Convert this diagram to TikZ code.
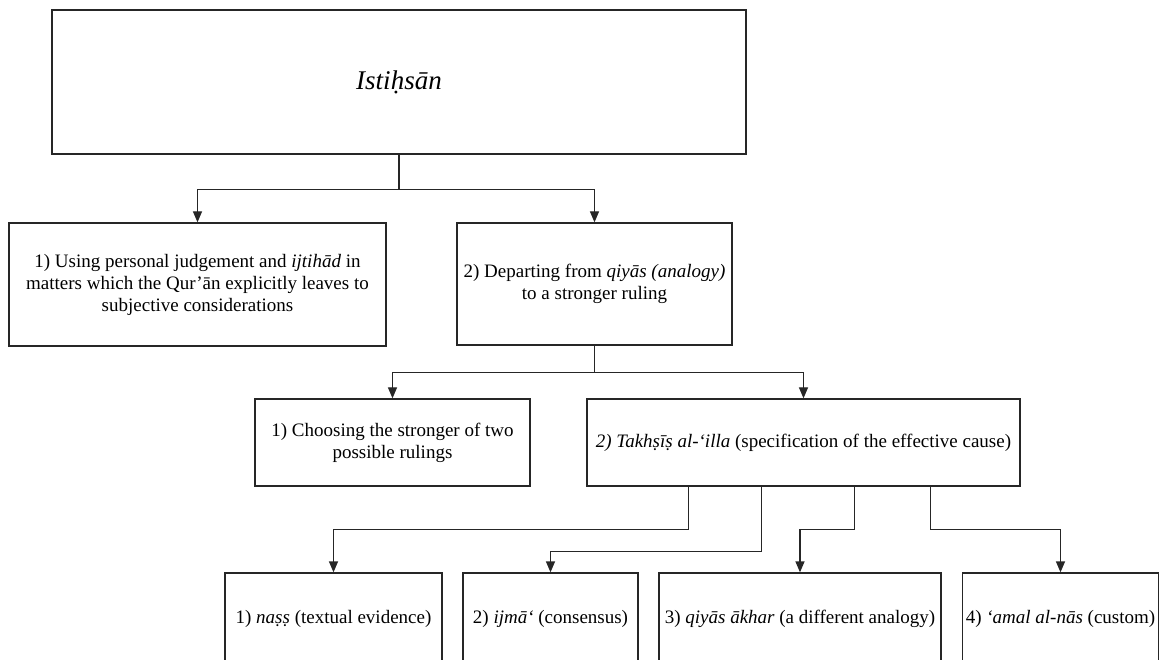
\documentclass[tikz,border=0pt]{standalone}
\usepackage{fontspec}
\setmainfont{Liberation Serif}
\usetikzlibrary{arrows.meta}

\tikzset{
  box/.style={draw=black!85, line width=1.3pt, align=center, inner sep=3pt,
    font=\fontsize{19}{22}\selectfont},
  arr/.style={draw=black!85, line width=1.3pt, -{Triangle[length=11pt,width=9pt]}}
}

\begin{document}
\begin{tikzpicture}[x=1pt, y=-1pt]
            \useasboundingbox (0,0) rectangle (1160,660);

            % Draw the main box
            \node[box, minimum width=694pt, minimum height=144pt,
              font=\fontsize{27}{30}\selectfont] (istihsan) at (399,82) {\textit{Istiḥsān}};

            % Draw the two senses
            \node[box, minimum width=377pt, minimum height=123pt] (judgement) at (197.5,284.5)
              {1) Using personal judgement and \textit{ijtihād} in\\matters which the Qur’ān explicitly leaves to\\subjective considerations};
            \node[box, minimum width=275pt, minimum height=122pt] (departing) at (594.5,284)
              {2) Departing from \textit{qiyās (analogy)}\\to a stronger ruling};

            % Draw the two kinds of departing
            \node[box, minimum width=275pt, minimum height=87pt] (choosing) at (392.5,442.5)
              {1) Choosing the stronger of two\\possible rulings};
            \node[box, minimum width=433pt, minimum height=87pt] (takhsis) at (803.5,442.5)
              {\textit{2) Takhṣīṣ al-‘illa} (specification of the effective cause)};

            % Draw the four grounds
            \node[box, minimum width=217pt, minimum height=92pt] (nass) at (333.5,619)
              {1) \textit{naṣṣ} (textual evidence)};
            \node[box, minimum width=175pt, minimum height=92pt] (ijma) at (550.5,619)
              {2) \textit{ijmā‘} (consensus)};
            \node[box, minimum width=282pt, minimum height=92pt] (qiyas) at (800,619)
              {3) \textit{qiyās ākhar} (a different analogy)};
            \node[box, minimum width=195pt, minimum height=92pt] (custom) at (1060.5,619)
              {4) \textit{‘amal al-nās} (custom)};

            % Draw the connectors
            \draw[arr] (istihsan.south) -- ++(0,35) -| (judgement.north);
            \draw[arr] (istihsan.south) -- ++(0,35) -| (departing.north);
            \draw[arr] (departing.south) -- ++(0,27) -| (choosing.north);
            \draw[arr] (departing.south) -- ++(0,27) -| (takhsis.north);
            \draw[arr] ([xshift=102pt]takhsis.south west) -- ++(0,43) -| (nass.north);
            \draw[arr] ([xshift=175pt]takhsis.south west) -- ++(0,65) -| (ijma.north);
            \draw[arr] ([xshift=268pt]takhsis.south west) -- ++(0,43) -| (qiyas.north);
            \draw[arr] ([xshift=344pt]takhsis.south west) -- ++(0,43) -| (custom.north);
        \end{tikzpicture}
\end{document}
